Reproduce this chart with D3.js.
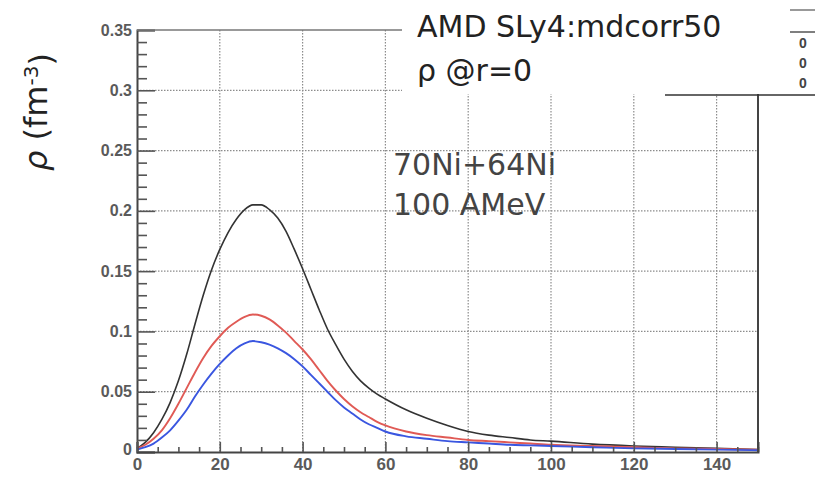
<!DOCTYPE html>
<html>
<head>
<meta charset="utf-8">
<script src="https://cdn.jsdelivr.net/npm/d3@7"></script>
<style>
  body { margin: 0; background: #fff; }
  svg { display: block; }
</style>
</head>
<body>
<svg id="chart" width="815" height="477"></svg>
<script>
// r (fm) sample points
const rPoints = [0, 2, 4, 6, 8, 10, 12, 14, 16, 18, 20, 22, 24, 26, 28, 30, 32, 34, 36, 38, 40,
  42, 44, 46, 48, 50, 52, 54, 56, 58, 60, 65, 70, 75, 80, 85, 90, 95, 100, 110, 120, 130, 140, 150]

// central density, three curves
const rhoBlack = [0.003, 0.008, 0.016, 0.027, 0.041, 0.059, 0.081, 0.106, 0.130, 0.151, 0.168,
  0.182, 0.193, 0.201, 0.205, 0.205, 0.201, 0.194, 0.183, 0.168, 0.152, 0.135, 0.118, 0.102,
  0.089, 0.077, 0.067, 0.059, 0.053, 0.048, 0.044, 0.035, 0.028, 0.022, 0.017, 0.014, 0.012,
  0.010, 0.009, 0.0065, 0.005, 0.004, 0.003, 0.002]
const rhoRed = [0.003, 0.006, 0.011, 0.018, 0.028, 0.040, 0.053, 0.066, 0.078, 0.088, 0.096,
  0.103, 0.108, 0.112, 0.114, 0.113, 0.110, 0.105, 0.099, 0.092, 0.085, 0.077, 0.068, 0.059,
  0.051, 0.044, 0.038, 0.033, 0.029, 0.025, 0.022, 0.017, 0.014, 0.012, 0.010, 0.009, 0.008,
  0.007, 0.006, 0.005, 0.004, 0.003, 0.0025, 0.002]
const rhoBlue = [0.002, 0.004, 0.007, 0.012, 0.018, 0.026, 0.035, 0.046, 0.056, 0.065, 0.073,
  0.080, 0.086, 0.090, 0.092, 0.091, 0.089, 0.086, 0.082, 0.077, 0.071, 0.064, 0.057, 0.050,
  0.043, 0.037, 0.032, 0.027, 0.023, 0.020, 0.017, 0.013, 0.011, 0.009, 0.008, 0.007, 0.006,
  0.0055, 0.005, 0.004, 0.003, 0.0025, 0.002, 0.0015]

const xTicks = [0, 20, 40, 60, 80, 100, 120, 140]
const xMinor = [5, 10, 15, 25, 30, 35, 45, 50, 55, 65, 70, 75, 85, 90, 95, 105, 110, 115, 125, 130, 135, 145, 150]
const yTicks = [0, 0.05, 0.1, 0.15, 0.2, 0.25, 0.3, 0.35]
const yMinor = [0.01, 0.02, 0.03, 0.04, 0.06, 0.07, 0.08, 0.09, 0.11, 0.12, 0.13, 0.14, 0.16, 0.17,
  0.18, 0.19, 0.21, 0.22, 0.23, 0.24, 0.26, 0.27, 0.28, 0.29, 0.31, 0.32, 0.33, 0.34]

const titleLines = ['AMD SLy4:mdcorr50', 'ρ @r=0']
const noteLines = ['70Ni+64Ni', '100 AMeV']
const statLines = ['0', '0', '0']

const svg = d3.select('#chart')
const margin = { top: 30, right: 57, bottom: 25, left: 137 }
const width = 815 - margin.left - margin.right
const height = 477 - margin.top - margin.bottom

const x = d3.scaleLinear().domain([0, 150]).range([0, width])
const y = d3.scaleLinear().domain([0, 0.35]).range([height, 0])

const g = svg.append('g').attr('transform', 'translate(' + margin.left + ',' + margin.top + ')')

// dotted grid
g.append('g').selectAll('line').data(xTicks.slice(1)).join('line')
  .attr('x1', d => x(d)).attr('x2', d => x(d))
  .attr('y1', 0).attr('y2', height)
  .attr('stroke', '#8c8c8c').attr('stroke-width', 1.2).attr('stroke-dasharray', '1.5,1.5')
g.append('g').selectAll('line').data(yTicks.slice(1, -1)).join('line')
  .attr('x1', 0).attr('x2', width)
  .attr('y1', d => y(d)).attr('y2', d => y(d))
  .attr('stroke', '#8c8c8c').attr('stroke-width', 1.3).attr('stroke-dasharray', '1.5,1.5')

// curves
const line = d3.line()
  .x((d, i) => x(rPoints[i]))
  .y(d => y(d))
  .curve(d3.curveMonotoneX)

const curves = [
  { vals: rhoBlack, color: '#333333', w: 1.6 },
  { vals: rhoRed, color: '#e05a55', w: 1.9 },
  { vals: rhoBlue, color: '#3a56e0', w: 1.9 }
]
curves.forEach(c => {
  g.append('path')
    .datum(c.vals)
    .attr('fill', 'none')
    .attr('stroke', c.color)
    .attr('stroke-width', c.w)
    .attr('stroke-linejoin', 'round')
    .attr('d', line)
})

// axes, ticks pointing into the frame
function styleAxis(sel) {
  sel.selectAll('.tick line').attr('stroke', '#555').attr('stroke-width', 1.6)
  sel.selectAll('text').attr('fill', '#5a5a5a')
    .style('font-family', '"Liberation Sans", Arial, sans-serif')
    .style('font-weight', 'bold')
}

const yAxis = g.append('g')
  .call(d3.axisLeft(y).tickValues(yTicks).tickSize(-18).tickPadding(5)
    .tickFormat(d => d === 0 ? '0' : d3.format('~g')(d)))
yAxis.select('.domain').attr('stroke', '#444').attr('stroke-width', 2)
styleAxis(yAxis)
yAxis.selectAll('text').style('font-size', '16px')
yAxis.selectAll('.tick').filter(d => d === 0).select('text').attr('dy', '0.15em')

const yAxisMinor = g.append('g')
  .call(d3.axisLeft(y).tickValues(yMinor).tickSize(-10).tickFormat(''))
yAxisMinor.select('.domain').remove()
styleAxis(yAxisMinor)

const xAxis = g.append('g')
  .attr('transform', 'translate(0,' + height + ')')
  .call(d3.axisBottom(x).tickValues(xTicks).tickSize(-10).tickPadding(6))
xAxis.select('.domain').attr('stroke', '#444').attr('stroke-width', 2)
styleAxis(xAxis)
xAxis.selectAll('text').style('font-size', '17px')

const xAxisMinor = g.append('g')
  .attr('transform', 'translate(0,' + height + ')')
  .call(d3.axisBottom(x).tickValues(xMinor).tickSize(-5).tickFormat(''))
xAxisMinor.select('.domain').remove()
styleAxis(xAxisMinor)

// frame top and right
g.append('line').attr('x1', 0).attr('x2', width).attr('y1', 0).attr('y2', 0)
  .attr('stroke', '#777').attr('stroke-width', 1.5)
g.append('line').attr('x1', width).attr('x2', width).attr('y1', 0).attr('y2', height)
  .attr('stroke', '#444').attr('stroke-width', 2)

// title pave and stats box cover the top right corner
svg.append('rect').attr('x', 402).attr('y', 0).attr('width', 413).attr('height', 94).attr('fill', '#fff')
svg.append('line').attr('x1', 665).attr('x2', 815).attr('y1', 95).attr('y2', 95)
  .attr('stroke', '#333').attr('stroke-width', 1.5)
svg.append('line').attr('x1', 790).attr('x2', 815).attr('y1', 10).attr('y2', 10)
  .attr('stroke', '#777').attr('stroke-width', 1.5)
svg.append('line').attr('x1', 790).attr('x2', 815).attr('y1', 32).attr('y2', 32)
  .attr('stroke', '#555').attr('stroke-width', 1.5)
svg.append('g').selectAll('text').data(statLines).join('text')
  .attr('x', 803).attr('y', (d, i) => 48 + i * 20)
  .attr('text-anchor', 'middle')
  .style('font-family', '"Liberation Sans", Arial, sans-serif')
  .style('font-size', '14px').style('font-weight', 'bold')
  .attr('fill', '#444')
  .text(d => d)

svg.append('g').selectAll('text').data(titleLines).join('text')
  .attr('x', 417).attr('y', (d, i) => 37 + i * 44)
  .style('font-family', '"DejaVu Sans", sans-serif')
  .style('font-size', '30px')
  .attr('fill', '#222')
  .text(d => d)

svg.append('g').selectAll('text').data(noteLines).join('text')
  .attr('x', 393).attr('y', (d, i) => 175 + i * 40)
  .style('font-family', '"DejaVu Sans", sans-serif')
  .style('font-size', '30px')
  .attr('fill', '#444')
  .text(d => d)

// y axis title
const yTitle = svg.append('text')
  .attr('transform', 'translate(47,112) rotate(-90)')
  .attr('text-anchor', 'middle')
  .style('font-family', '"DejaVu Sans", sans-serif')
  .style('font-size', '32px')
  .attr('fill', '#222')
yTitle.append('tspan').style('font-style', 'italic').text('ρ')
yTitle.append('tspan').text(' (fm')
yTitle.append('tspan').attr('dy', '-0.45em').style('font-size', '20px').text('-3')
yTitle.append('tspan').attr('dy', '0.45em').text(')')
</script>
</body>
</html>
